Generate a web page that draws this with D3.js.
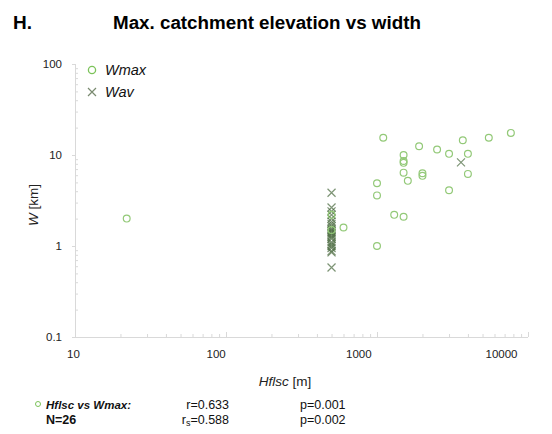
<!DOCTYPE html>
<html>
<head>
<meta charset="utf-8">
<script src="https://cdn.jsdelivr.net/npm/d3@7"></script>
<style>
  body { margin: 0; background: #fff; }
  text { font-family: "Liberation Sans", Arial, sans-serif; }
</style>
</head>
<body>
<svg id="chart" width="552" height="434"></svg>
<script>
// Wmax points (Hflsc [m], W [km])
const hflscMax = [22, 500, 500, 600, 1000, 1000, 1000, 1100, 1300, 1500, 1500, 1500, 1500, 1500,
                  1600, 1900, 2000, 2000, 2500, 3000, 3000, 3700, 4000, 4000, 5500, 7700];
const wMax     = [2.0, 2.2, 1.5, 1.6, 1.0, 3.6, 4.9, 15.5, 2.2, 2.1, 10, 8.6, 8.2, 6.4,
                  5.2, 12.5, 6.3, 5.9, 11.5, 10.3, 4.1, 14.5, 10.3, 6.2, 15.5, 17.5];
// Wav points
const hflscAv = [500, 500, 500, 500, 500, 500, 500, 500, 500, 500, 500, 500,
                 500, 500, 500, 500, 500, 500, 500, 500, 500, 500, 500, 3600];
const wAv     = [3.85, 2.65, 2.4, 2.2, 2.0, 1.85, 1.75, 1.65, 1.55, 1.5, 1.45, 1.4,
                 1.35, 1.3, 1.25, 1.2, 1.1, 1.05, 1.0, 0.95, 0.88, 0.85, 0.58, 8.3];
const xTicks = [10, 100, 1000, 10000];
const yTicks = [0.1, 1, 10, 100];

const svg = d3.select("#chart");
const axisColor = "#d9d9d9";
const circleColor = "#93c978";
const crossColor = "#46663a";

const x = d3.scaleLog().domain([10, 10000]).range([75, 528]);
const xLab = d3.scaleLog().domain([10, 10000]).range([73, 501]);
const y = d3.scaleLog().domain([0.1, 100]).range([337, 64]);

// titles
svg.append("text").attr("x", 13).attr("y", 29)
  .attr("font-size", 19).attr("font-weight", "bold").text("H.");
svg.append("text").attr("x", 113).attr("y", 29)
  .attr("font-size", 18.8).attr("font-weight", "bold").text("Max. catchment elevation vs width");

// y axis
const minorY = y.ticks().filter(d => !yTicks.includes(d));
svg.append("g").attr("transform", "translate(75,0)")
  .call(d3.axisRight(y).tickValues(minorY).tickSize(3).tickFormat(""))
  .call(g => g.select(".domain").remove())
  .call(g => g.selectAll("line").attr("stroke", axisColor));
svg.append("g").attr("transform", "translate(75,0)")
  .call(d3.axisLeft(y).tickValues(yTicks).tickSize(3).tickPadding(10).tickFormat(d3.format("~g")))
  .call(g => g.select(".domain").attr("stroke", axisColor).attr("d", `M0.5,${y(100)}V${y(0.1)}`))
  .call(g => g.selectAll("line").attr("stroke", axisColor))
  .call(g => g.selectAll("text").attr("font-size", 11.5).attr("fill", "#222")
    .attr("font-family", "Liberation Sans, Arial, sans-serif"));

// x axis
const minorX = x.ticks().filter(d => !xTicks.includes(d));
svg.append("g").attr("transform", "translate(0,337)")
  .call(d3.axisBottom(x).tickValues(minorX).tickSize(-3).tickFormat(""))
  .call(g => g.select(".domain").remove())
  .call(g => g.selectAll("line").attr("stroke", axisColor));
svg.append("g").attr("transform", "translate(0,337)")
  .call(d3.axisBottom(x).tickValues(xTicks).tickSize(-5).tickFormat(""))
  .call(g => g.select(".domain").attr("stroke", axisColor).attr("d", `M${x(10)},0.5H${x(10000)}`))
  .call(g => g.selectAll("line").attr("stroke", axisColor));
svg.append("g").attr("transform", "translate(0,337)")
  .call(d3.axisBottom(xLab).tickValues(xTicks).tickSize(0).tickPadding(13).tickFormat(d3.format("~g")))
  .call(g => g.select(".domain").remove())
  .call(g => g.selectAll("text").attr("font-size", 11.5).attr("fill", "#222")
    .attr("font-family", "Liberation Sans, Arial, sans-serif"));

// axis titles
const xt = svg.append("text").attr("x", 285).attr("y", 386)
  .attr("text-anchor", "middle").attr("font-size", 13.5).attr("fill", "#222");
xt.append("tspan").attr("font-style", "italic").text("Hflsc");
xt.append("tspan").text(" [m]");
const yt = svg.append("text").attr("transform", "translate(38,205) rotate(-90)")
  .attr("text-anchor", "middle").attr("font-size", 13.5).attr("fill", "#222");
yt.append("tspan").attr("font-style", "italic").text("W");
yt.append("tspan").text(" [km]");

// points
const crossPath = s => `M${-s},${-s}L${s},${s}M${-s},${s}L${s},${-s}`;
svg.append("g").selectAll("path")
  .data(hflscAv.map((h, i) => [h, wAv[i]]))
  .join("path")
  .attr("transform", d => `translate(${x(d[0])},${y(d[1])})`)
  .attr("d", crossPath(4))
  .attr("fill", "none").attr("stroke", crossColor).attr("stroke-width", 1.2).attr("stroke-opacity", 0.7);
svg.append("g").selectAll("circle")
  .data(hflscMax.map((h, i) => [h, wMax[i]]))
  .join("circle")
  .attr("cx", d => x(d[0])).attr("cy", d => y(d[1])).attr("r", 3.4)
  .attr("fill", "none").attr("stroke", circleColor).attr("stroke-width", 1.2);

// legend
const lg = svg.append("g");
lg.append("circle").attr("cx", 92).attr("cy", 70).attr("r", 3.6)
  .attr("fill", "none").attr("stroke", "#7cc35a").attr("stroke-width", 1.3);
lg.append("text").attr("x", 105).attr("y", 75).attr("font-size", 14.5)
  .attr("font-style", "italic").attr("fill", "#111").text("Wmax");
lg.append("path").attr("transform", "translate(92,92)").attr("d", crossPath(4))
  .attr("stroke", "#7a8a70").attr("stroke-width", 1.2);
lg.append("text").attr("x", 105).attr("y", 97).attr("font-size", 14.5)
  .attr("font-style", "italic").attr("fill", "#111").text("Wav");

// stats
const st = svg.append("g").attr("font-size", 12.5).attr("fill", "#111");
st.append("circle").attr("cx", 38).attr("cy", 404).attr("r", 2.5)
  .attr("fill", "none").attr("stroke", "#7cc35a").attr("stroke-width", 1);
st.append("text").attr("x", 46).attr("y", 409).attr("font-weight", "bold").attr("font-size", 11.5)
  .attr("font-style", "italic").text("Hflsc vs Wmax:");
st.append("text").attr("x", 46).attr("y", 424).attr("font-weight", "bold").text("N=26");
st.append("text").attr("x", 229).attr("y", 409).attr("text-anchor", "end").text("r=0.633");
const rs = st.append("text").attr("x", 229).attr("y", 424).attr("text-anchor", "end");
rs.append("tspan").text("r");
rs.append("tspan").attr("font-size", 9).attr("dy", 2).text("s");
rs.append("tspan").attr("dy", -2).text("=0.588");
st.append("text").attr("x", 300).attr("y", 409).text("p=0.001");
st.append("text").attr("x", 300).attr("y", 424).text("p=0.002");
</script>
</body>
</html>
